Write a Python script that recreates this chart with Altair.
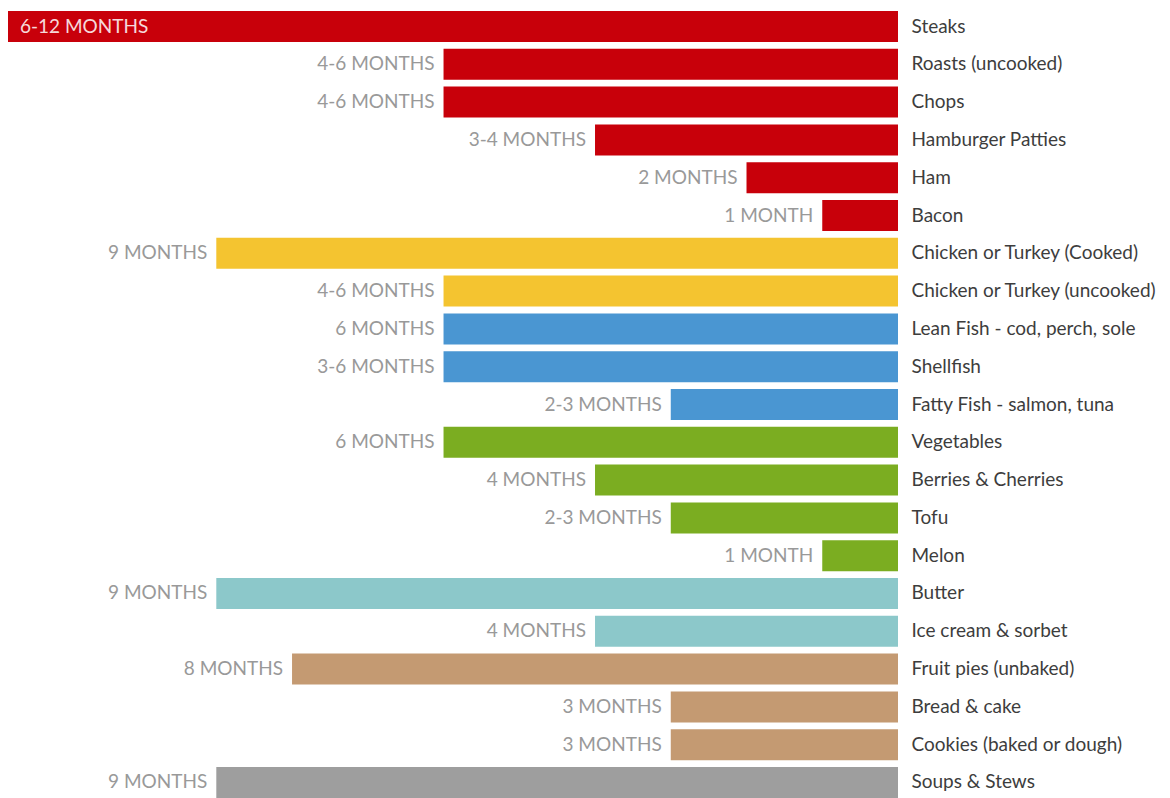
import altair as alt
import pandas as pd

foods = [
    "Steaks", "Roasts (uncooked)", "Chops", "Hamburger Patties", "Ham", "Bacon",
    "Chicken or Turkey (Cooked)", "Chicken or Turkey (uncooked)",
    "Lean Fish - cod, perch, sole", "Shellfish", "Fatty Fish - salmon, tuna",
    "Vegetables", "Berries & Cherries", "Tofu", "Melon",
    "Butter", "Ice cream & sorbet",
    "Fruit pies (unbaked)", "Bread & cake", "Cookies (baked or dough)",
    "Soups & Stews",
]
months = [12, 6, 6, 4, 2, 1, 9, 6, 6, 6, 3, 6, 4, 3, 1, 9, 4, 8, 3, 3, 9]
labels = [
    "6-12 MONTHS", "4-6 MONTHS", "4-6 MONTHS", "3-4 MONTHS", "2 MONTHS", "1 MONTH",
    "9 MONTHS", "4-6 MONTHS", "6 MONTHS", "3-6 MONTHS", "2-3 MONTHS",
    "6 MONTHS", "4 MONTHS", "2-3 MONTHS", "1 MONTH",
    "9 MONTHS", "4 MONTHS", "8 MONTHS", "3 MONTHS", "3 MONTHS", "9 MONTHS",
]
groups = [
    "Meat", "Meat", "Meat", "Meat", "Meat", "Meat",
    "Poultry", "Poultry", "Fish", "Fish", "Fish",
    "Produce", "Produce", "Produce", "Produce",
    "Dairy", "Dairy", "Baked", "Baked", "Baked", "Soups",
]
group_names = ["Meat", "Poultry", "Fish", "Produce", "Dairy", "Baked", "Soups"]
group_colors = ["#C8000A", "#F4C430", "#4A96D2", "#7BAD21", "#8CC8CA", "#C49A72", "#9E9E9E"]

df = pd.DataFrame({"food": foods, "months": months, "label": labels, "group": groups})

XMAX = 11.75
FONT = "Lato"

x = alt.X("months:Q", scale=alt.Scale(domain=[0, XMAX], reverse=True, clamp=True, nice=False, zero=True), axis=None)
y = alt.Y(
    "food:N", sort=foods, title=None,
    scale=alt.Scale(paddingInner=0.18, paddingOuter=0.08),
    axis=alt.Axis(orient="right", ticks=False, domain=False, labelPadding=13,
                  labelFontSize=19, labelFont=FONT, labelColor="#3d3d3d", labelLimit=400),
)

bars = alt.Chart(df).mark_bar().encode(
    x=x, y=y,
    color=alt.Color("group:N", scale=alt.Scale(domain=group_names, range=group_colors), legend=None),
)

outside = alt.Chart(df).transform_filter(f"datum.months <= {XMAX}").mark_text(
    align="right", baseline="middle", dx=-9, fontSize=19, font=FONT, color="#999999"
).encode(x=x, y=y, text="label:N")

inside = alt.Chart(df).transform_filter(f"datum.months > {XMAX}").mark_text(
    align="left", baseline="middle", dx=12, fontSize=19, font=FONT, color="#ffffff", opacity=0.85
).encode(x=x, y=y, text="label:N")

chart = alt.layer(bars, outside, inside).properties(
    width=890, height=793,
    padding={"left": 0, "top": 0, "right": 0, "bottom": 0},
    background="#ffffff",
).configure_view(stroke=None)

chart.save("out.html", embed_options={"renderer": "svg", "actions": False})
